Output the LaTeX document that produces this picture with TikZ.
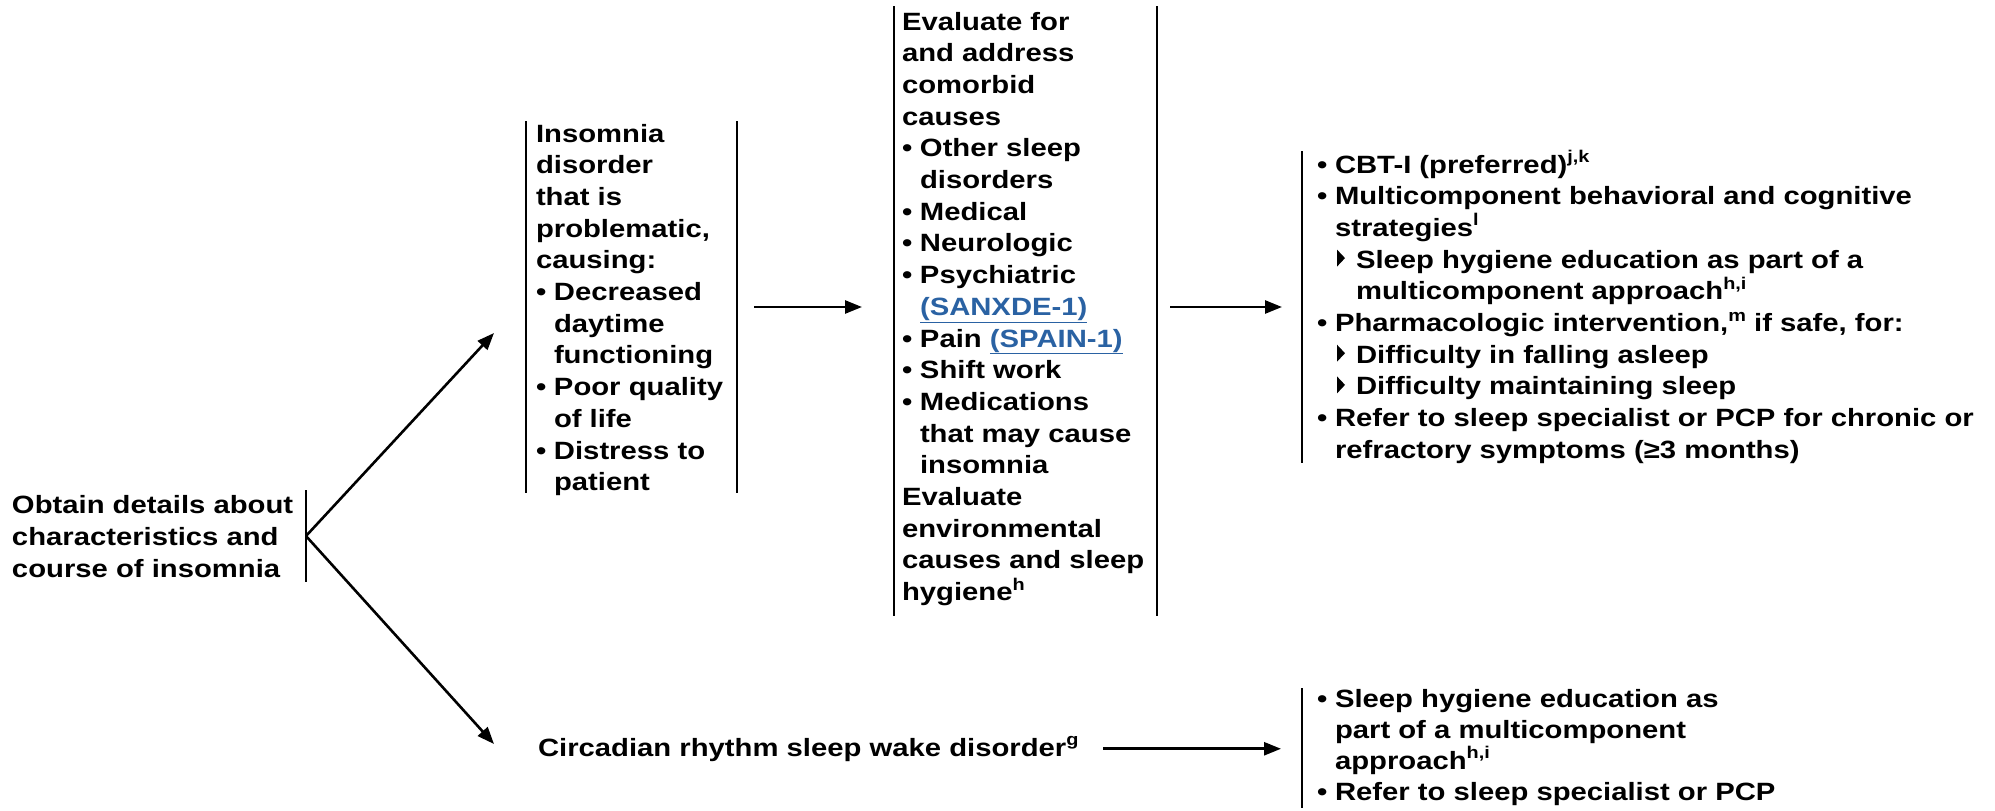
\documentclass[tikz,border=0pt]{standalone}
\usepackage{fontspec}
\setmainfont{Liberation Sans}[FakeStretch=1.17]
\usetikzlibrary{arrows.meta,calc}

\definecolor{linkblue}{HTML}{2A62A3}
\newcommand\sups[1]{\raisebox{10.5pt}{\fontsize{17}{17}\selectfont #1}}
\newcommand\bul{\makebox[18pt][l]{•}}
\newcommand\ind{\hspace*{18pt}}
% small filled triangle used for second-level items
\newcommand\subbul{\makebox[21pt][l]{\hspace*{2pt}\tikz[x=1pt,y=1pt,baseline=0pt]{\fill (0,1.5) -- (8,10) -- (0,18.5) -- cycle;}}}
\newcommand\lnk[1]{{\color{linkblue}\underline{#1}}}
% keep a fixed line pitch even where superscripts stick out
\lineskiplimit=-100pt
\lineskip=0pt

\begin{document}
\begin{tikzpicture}[x=1pt,y=-1pt,
  txt/.style={anchor=north west, inner sep=0pt, outer sep=0pt, align=left,
    font=\bfseries\fontsize{25}{31.7}\selectfont},
  frame/.style={inner sep=0pt, outer sep=0pt, minimum width=0pt, rectangle},
  bar/.style={line width=2.6pt},
  arr/.style={line width=2.6pt, -{Triangle[length=17pt,width=13pt]}}]
\useasboundingbox (0,0) rectangle (1995,811);

% bracket frames
\node[frame, minimum height=92pt] (f1) at (306,536) {};
\node[frame, minimum width=211pt, minimum height=372pt] (b2) at (631.5,307) {};
\node[frame, minimum width=263pt, minimum height=610pt] (b3) at (1025.5,311) {};
\node[frame, minimum height=312pt] (b4) at (1302,307) {};
\node[frame, minimum height=120pt] (b5) at (1302,748) {};

\draw[bar] (f1.north) -- (f1.south);
\draw[bar] (b2.north west) -- (b2.south west);
\draw[bar] (b2.north east) -- (b2.south east);
\draw[bar] (b3.north west) -- (b3.south west);
\draw[bar] (b3.north east) -- (b3.south east);
\draw[bar] (b4.north) -- (b4.south);
\draw[bar] (b5.north) -- (b5.south);

% texts
\node[txt, font=\bfseries\fontsize{25}{32}\selectfont] (t1) at (12,489)
  {\rule{0pt}{24pt}Obtain details about\\characteristics and\\course of insomnia};

\node[txt] (t2) at (536,118)
  {\rule{0pt}{24pt}Insomnia\\
   disorder\\
   that is\\
   problematic,\\
   causing:\\
   \bul Decreased\\
   \ind daytime\\
   \ind functioning\\
   \bul Poor quality\\
   \ind of life\\
   \bul Distress to\\
   \ind patient};

\node[txt] (t3) at (902,6)
  {\rule{0pt}{24pt}Evaluate for\\
   and address\\
   comorbid\\
   causes\\
   \bul Other sleep\\
   \ind disorders\\
   \bul Medical\\
   \bul Neurologic\\
   \bul Psychiatric\\
   \ind\lnk{(SANXDE-1)}\\
   \bul Pain \lnk{(SPAIN-1)}\\
   \bul Shift work\\
   \bul Medications\\
   \ind that may cause\\
   \ind insomnia\\
   Evaluate\\
   environmental\\
   causes and sleep\\
   hygiene\sups{h}};

\node[txt] (t4) at (1317,149)
  {\rule{0pt}{24pt}\bul CBT-I (preferred)\sups{j,k}\\
   \bul Multicomponent behavioral and cognitive\\
   \ind strategies\sups{l}\\
   \ind\subbul Sleep hygiene education as part of a\\
   \ind\hspace*{21pt}multicomponent approach\sups{h,i}\\
   \bul Pharmacologic intervention,\sups{m} if safe, for:\\
   \ind\subbul Difficulty in falling asleep\\
   \ind\subbul Difficulty maintaining sleep\\
   \bul Refer to sleep specialist or PCP for chronic or\\
   \ind refractory symptoms (≥3 months)};

\node[txt, font=\bfseries\fontsize{25}{31}\selectfont] (t5) at (1317,683)
  {\rule{0pt}{24pt}\bul Sleep hygiene education as\\
   \ind part of a multicomponent\\
   \ind approach\sups{h,i}\\
   \bul Refer to sleep specialist or PCP};

\node[txt, anchor=base west] (circ) at (538,756)
  {Circadian rhythm sleep wake disorder\sups{g}};

% connectors
\coordinate (upTip) at (494,333);
\coordinate (downTip) at (494,744);
\draw[arr] (f1.center) -- (upTip);
\draw[arr] (f1.center) -- (downTip);
\draw[arr] ([xshift=17pt]b2.east) -- ([xshift=-32pt]b3.west |- b2.east);
\draw[arr] ([xshift=13pt]b3.east |- b4.west) -- ([xshift=-20pt]b4.west);
\draw[arr] ([xshift=25pt]circ.east) -- ([xshift=-21pt]b5.west |- circ.east);
\end{tikzpicture}
\end{document}
